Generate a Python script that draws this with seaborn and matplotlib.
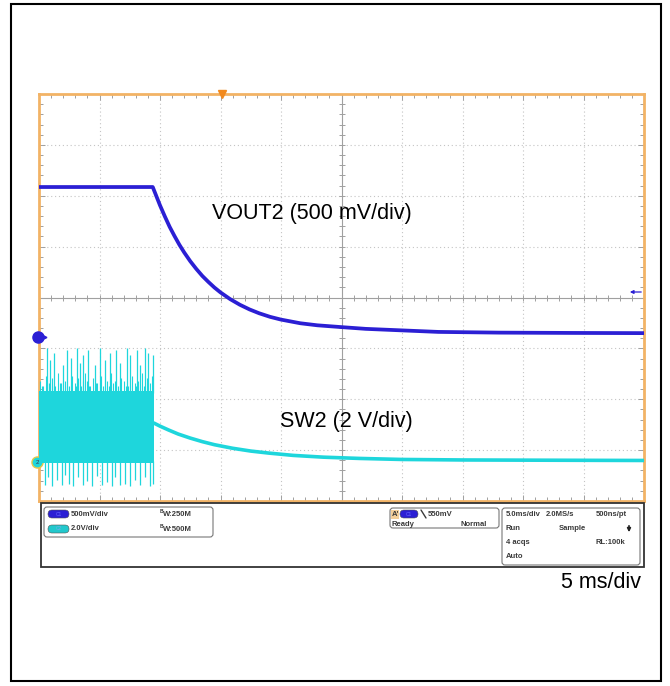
import numpy as np
import pandas as pd
import matplotlib
matplotlib.use("Agg")
import matplotlib.pyplot as plt
import seaborn as sns
from matplotlib.patches import Rectangle, FancyBboxPatch

# ---------------- data ----------------
# VOUT2 (channel 1, 500 mV/div): time in ms from left edge, volts
vout_t = [0.0, 9.4, 9.7, 10.0, 10.4, 10.8, 11.2, 11.6, 12.0, 12.5, 13.0, 13.5, 14.0, 14.5, 15.0,
          15.8, 16.6, 17.4, 18.2, 19.1, 20.0, 21.6, 23.0, 24.9, 27.0, 29.8, 33.0, 38.0, 44.0, 50.0]
vout_v = [1.474, 1.474, 1.384, 1.294, 1.185, 1.082, 0.992, 0.907, 0.831, 0.745, 0.669, 0.600, 0.541, 0.486, 0.438,
          0.372, 0.317, 0.271, 0.233, 0.198, 0.171, 0.135, 0.115, 0.098, 0.080, 0.066, 0.050, 0.043, 0.040, 0.038]

# SW2 (channel 2, 2 V/div) after switching stops
sw_t = [9.5, 10.0, 10.7, 11.5, 12.5, 13.5, 14.5, 16.0, 17.5, 19.0, 21.0, 23.5, 26.5, 30.0, 35.0, 42.0, 50.0]
sw_v = [1.53, 1.41, 1.26, 1.10, 0.94, 0.80, 0.68, 0.54, 0.43, 0.35, 0.26, 0.19, 0.14, 0.10, 0.08, 0.07, 0.06]

# SW2 switching envelope (dense band) while the converter runs
band_t = [0.0, 9.5]
band_low = [-0.05, -0.05]
band_high = [2.80, 2.80]

# upward ringing spikes
spike_up_t = [0.63, 0.91, 1.24, 2.01, 2.29, 2.62, 3.11, 3.39, 3.66, 4.08, 4.63, 5.04,
              5.45, 5.87, 6.36, 6.69, 7.25, 7.52, 8.07, 8.35, 8.76, 9.03, 9.45]
spike_up_v = [4.5, 4.0, 4.3, 3.8, 4.4, 4.1, 4.5, 3.9, 4.2, 4.4, 3.8, 4.5,
              4.0, 4.3, 4.4, 3.9, 4.5, 4.2, 4.4, 3.8, 4.5, 4.3, 4.2]
# smaller "grass" above the band
grass_t = [0.1, 0.25, 0.35, 0.55, 0.7, 0.8, 1.1, 1.2, 1.35, 1.6, 1.7, 1.8, 2.15, 2.35, 2.45, 2.75, 2.95,
           3.05, 3.25, 3.5, 3.6, 3.8, 4.0, 4.15, 4.25, 4.5, 4.7, 4.8, 5.15, 5.3, 5.6, 5.75, 5.95, 6.15,
           6.25, 6.5, 6.8, 7.0, 7.15, 7.35, 7.7, 7.9, 8.0, 8.2, 8.5, 8.65, 8.9, 9.15, 9.35]
grass_v = [3.2, 3.0, 3.0, 3.4, 3.1, 3.1, 3.3, 3.0, 3.0, 3.5, 3.1, 3.1, 3.2, 3.0, 3.0, 3.4, 3.1,
           3.0, 3.3, 3.0, 3.2, 3.5, 3.2, 3.0, 3.0, 3.3, 3.1, 3.1, 3.4, 3.0, 3.2, 3.0, 3.5, 3.1,
           3.2, 3.0, 3.3, 3.2, 3.0, 3.0, 3.4, 3.1, 3.0, 3.2, 3.5, 3.0, 3.3, 3.1, 3.4]
# downward ringing spikes
spike_dn_t = [0.5, 0.77, 1.05, 1.46, 1.87, 2.15, 2.51, 2.84, 3.25, 3.66, 3.94, 4.35, 4.77,
              5.18, 5.59, 6.0, 6.28, 6.69, 7.1, 7.52, 7.93, 8.35, 8.76, 9.17, 9.45]
spike_dn_v = [-0.9, -0.6, -0.95, -0.7, -0.9, -0.5, -0.85, -0.95, -0.6, -0.9, -0.75, -0.95, -0.55,
              -0.9, -0.8, -0.95, -0.6, -0.9, -0.85, -0.95, -0.7, -0.9, -0.6, -0.95, -0.85]

labels = ["VOUT2 (500 mV/div)", "SW2 (2 V/div)", "5 ms/div"]
ch1_text = ["500mV/div", "2.0V/div"]
bw_text = ["W:250M", "W:500M"]
trig_text = ["550mV", "Ready", "Normal"]
acq_rows = [["5.0ms/div", "2.0MS/s", "500ns/pt"], ["Run", "Sample"], ["4 acqs", "RL:100k"], ["Auto"]]

# ---------------- styling / layout ----------------
sns.set_style("white")
plt.rcParams["font.family"] = ["Liberation Sans", "DejaVu Sans"]

W, H = 670, 686
BLUE = "#2b1fd4"
CYAN = "#1ed6dc"
ORANGE = "#f2b366"
GRID = "#c4c4c4"
CENTER = "#a0a0a0"

# scope screen in pixel coords
L, R, T, B = 39, 644, 94, 501
NDIV_X, NDIV_Y = 10, 8
PX_DIV = (B - T) / NDIV_Y
CY = (T + B) / 2
CH1_GND = 337.0
CH2_GND = 462.0
off1 = (CY - CH1_GND) / PX_DIV
off2 = (CY - CH2_GND) / PX_DIV

fig = plt.figure(figsize=(W / 100, H / 100), dpi=100)
rect = [L / W, 1 - B / H, (R - L) / W, (B - T) / H]

base = fig.add_axes(rect, zorder=1)
base.set_xlim(0, 50)
base.set_ylim(-4, 4)
base.set_facecolor("white")
for s in base.spines.values():
    s.set_color(ORANGE)
    s.set_linewidth(2.0)
base.set_xticks(np.arange(0, 51, 5))
base.set_xticks(np.arange(0, 51, 1), minor=True)
base.set_yticks(np.arange(-4, 5, 1))
base.set_yticks(np.arange(-4, 4.01, 0.2), minor=True)
base.tick_params(which="both", direction="in", top=True, bottom=True, left=True, right=True,
                 labelbottom=False, labelleft=False, color=CENTER, width=0.7)
base.tick_params(which="major", length=4)
base.tick_params(which="minor", length=3)
# dotted division grid
for xv in np.arange(5, 50, 5):
    if xv != 25:
        base.axvline(xv, color=GRID, lw=0.8, ls=(0, (1, 2.5)), zorder=0)
for yv in range(-3, 4):
    if yv != 0:
        base.axhline(yv, color=GRID, lw=0.8, ls=(0, (1, 2.5)), zorder=0)
# center cross with minor tick marks
base.axhline(0, color=CENTER, lw=0.8, zorder=0)
base.axvline(25, color=CENTER, lw=0.8, zorder=0)
mx = np.arange(1, 50, 1)
base.plot(mx, np.zeros_like(mx), ls="none", marker="|", ms=5, mew=0.7, color=CENTER, zorder=0)
my = np.arange(-3.8, 3.81, 0.2)
base.plot(np.full_like(my, 25), my, ls="none", marker="_", ms=5, mew=0.7, color=CENTER, zorder=0)

# channel axes in volts, overlaying the grid
ch1 = fig.add_axes(rect, sharex=base, zorder=2)
ch1.set_ylim((-4 - off1) * 0.5, (4 - off1) * 0.5)
ch2 = fig.add_axes(rect, sharex=base, zorder=3)
ch2.set_ylim((-4 - off2) * 2.0, (4 - off2) * 2.0)
for a in (ch1, ch2):
    a.patch.set_visible(False)
    a.axis("off")

df_vout = pd.DataFrame({"t": vout_t, "v": vout_v})
sns.lineplot(data=df_vout, x="t", y="v", ax=ch1, color=BLUE, lw=2.7, estimator=None, sort=False, legend=False)

df_sw = pd.DataFrame({"t": sw_t, "v": sw_v})
ch2.fill_between(band_t, band_low, band_high, color=CYAN, lw=0)
ch2.vlines(spike_up_t, band_high[0] - 0.1, spike_up_v, color=CYAN, lw=0.9)
ch2.vlines(grass_t, band_high[0] - 0.1, grass_v, color=CYAN, lw=0.8)
ch2.vlines(spike_dn_t, band_low[0] + 0.1, spike_dn_v, color=CYAN, lw=0.9)
sns.lineplot(data=df_sw, x="t", y="v", ax=ch2, color=CYAN, lw=2.6, estimator=None, sort=False, legend=False)

# trigger position marker (top), trigger level arrow (right)
base.plot([15.1], [4.0], marker="v", ms=6, color="#f28a1e", clip_on=False, zorder=10, ls="none")
base.annotate("", xy=(48.6, (CY - 292) / PX_DIV), xytext=(50, (CY - 292) / PX_DIV),
              arrowprops=dict(arrowstyle="-|>", color=BLUE, lw=0.9, mutation_scale=5), zorder=10)
# channel ground markers
base.plot([-0.05], [off1], marker="o", ms=8, color=BLUE, clip_on=False, zorder=10, ls="none")
base.plot([0.45], [off1], marker=">", ms=3.5, color=BLUE, clip_on=False, zorder=10, ls="none")
base.plot([-0.15], [off2], marker="o", ms=8, mfc=CYAN, mec="#e6c84a", mew=1.0, clip_on=False, zorder=10, ls="none")
base.text(-0.15, off2, "2", fontsize=4.5, ha="center", va="center", color="#335", zorder=11, clip_on=False)

# ---------------- overlay in pixel coordinates ----------------
ov = fig.add_axes([0, 0, 1, 1], zorder=5)
ov.set_xlim(0, W)
ov.set_ylim(H, 0)
ov.patch.set_visible(False)
ov.axis("off")

ov.add_patch(Rectangle((11, 4), 650, 677, fill=False, ec="black", lw=1.5))

ov.text(212, 213, labels[0], fontsize=15.5, va="center", ha="left", color="black")
ov.text(280, 422, labels[1], fontsize=15.5, va="center", ha="left", color="black")
ov.text(641, 582, labels[2], fontsize=15.5, va="center", ha="right", color="black")

# status bar
ov.add_patch(Rectangle((41, 503), 603, 64, fc="white", ec="#333333", lw=1.3))
for (x0, y0, w, h) in [(44, 507, 169, 30), (390, 508, 109, 20), (502, 508, 138, 57)]:
    ov.add_patch(FancyBboxPatch((x0, y0), w, h, boxstyle="round,pad=0,rounding_size=3",
                                fc="white", ec="#777777", lw=0.8))
STAT = dict(fontsize=5.5, fontweight="bold", color="#3a3a3a", va="center")
for (y0, col) in [(514, BLUE), (529, "#22c8cc")]:
    ov.add_patch(FancyBboxPatch((48, y0 - 4), 21, 8, boxstyle="round,pad=0,rounding_size=4",
                                fc=col, ec="#555555", lw=0.4))
ov.text(58.5, 514, "C1", fontsize=3.5, color="#6a6aff", ha="center", va="center")
ov.text(58.5, 529, "C2", fontsize=3.5, color="#7ae", ha="center", va="center")
ov.text(71, 514, ch1_text[0], **STAT)
ov.text(71, 529, ch1_text[1], **STAT)
for y0, t in [(514, bw_text[0]), (529, bw_text[1])]:
    ov.text(160, y0 - 2.5, "B", fontsize=3.6, fontweight="bold", color="#3a3a3a", va="center")
    ov.text(163, y0 + 0.5, t, **STAT)

# trigger box
ov.add_patch(Rectangle((391, 509.5), 8, 9, fc="#f3cf9a", ec="none"))
ov.text(392, 514, "A'", **STAT)
ov.add_patch(FancyBboxPatch((400, 510), 18, 8, boxstyle="round,pad=0,rounding_size=4",
                            fc=BLUE, ec="#555555", lw=0.4))
ov.text(409, 514, "C1", fontsize=3.5, color="#6a6aff", ha="center", va="center")
ov.plot([421, 426], [510, 518], color="#3a3a3a", lw=1.0)
ov.text(428, 514, trig_text[0], **STAT)
ov.text(392, 524, trig_text[1], **STAT)
ov.text(487, 524, trig_text[2], ha="right", **STAT)

# acquisition box
ov.text(506, 514, acq_rows[0][0], **STAT)
ov.text(546, 514, acq_rows[0][1], **STAT)
ov.text(596, 514, acq_rows[0][2], **STAT)
ov.text(506, 529, acq_rows[1][0], **STAT)
ov.text(559, 529, acq_rows[1][1], **STAT)
ov.annotate("", xy=(629, 535), xytext=(629, 523),
            arrowprops=dict(arrowstyle="-|>", color="#222222", lw=1.2, mutation_scale=5))
ov.text(506, 543, acq_rows[2][0], **STAT)
ov.text(596, 543, acq_rows[2][1], **STAT)
ov.text(506, 557, acq_rows[3][0], **STAT)

fig.savefig("out.png", dpi=100, facecolor="white")
